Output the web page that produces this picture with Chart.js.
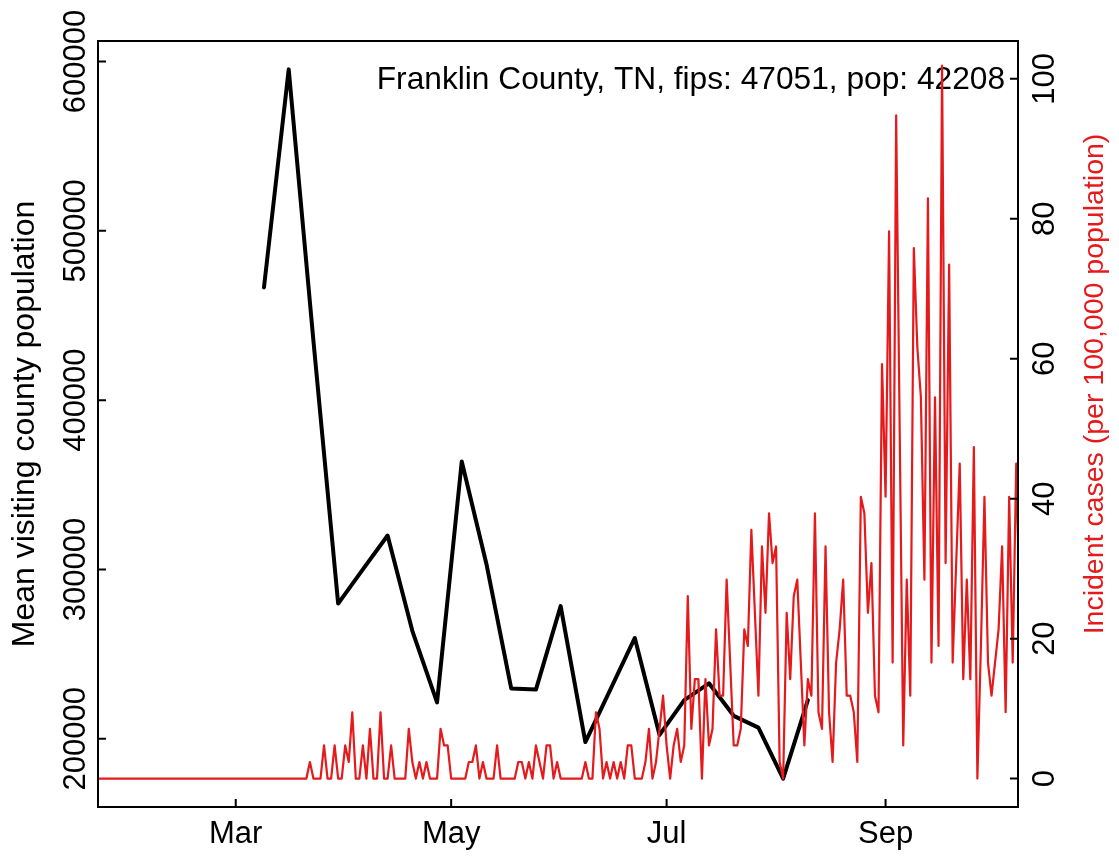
<!DOCTYPE html>
<html>
<head>
<meta charset="utf-8">
<script src="https://cdn.jsdelivr.net/npm/chart.js@4"></script>
<style>
  html, body { margin: 0; padding: 0; background: #fff; }
</style>
</head>
<body>
<canvas id="myChart" width="1119" height="856"></canvas>
<script>
// county info
const countyName = "Franklin County, TN";
const countyFips = 47051;
const countyPop = 42208;

// x axis: day of year (0 = Jan 1)
const xTickDays = [60, 121, 182, 244];
const xTickLabels = ["Mar", "May", "Jul", "Sep"];
const leftTicks = [200000, 300000, 400000, 500000, 600000];
const rightTicks = [0, 20, 40, 60, 80, 100];

// weekly mean visiting population
const visitDays = [68, 75, 82, 89, 96, 103, 110, 117, 124, 131, 138, 145,
  152, 159, 166, 173, 180, 187, 194, 201, 208, 215, 222];
const visitMean = [466600, 595400, 435000, 279800, 300000, 320000, 263700,
  221400, 363800, 303100, 229700, 229000, 278300, 198000, 228700, 259500,
  202200, 222800, 232700, 213500, 206500, 176400, 222800];

// daily new cases, first value is day 21
const caseStartDay = 21;
const dailyCases = [
  0, 0, 0, 0, 0, 0, 0, 0, 0, 0, 0, 0, 0, 0, 0, 0, 0, 0, 0, 0,
  0, 0, 0, 0, 0, 0, 0, 0, 0, 0, 0, 0, 0, 0, 0, 0, 0, 0, 0, 0,
  0, 0, 0, 0, 0, 0, 0, 0, 0, 0, 0, 0, 0, 0, 0, 0, 0, 0, 0,
  0, 1, 0, 0, 0, 2, 0, 0, 2, 0,
  0, 2, 1, 4, 0, 0, 2, 0, 3, 0,
  0, 4, 0, 0, 2, 0, 0, 0, 0, 3,
  1, 0, 1, 0, 1, 0, 0, 0, 3, 2,
  2, 0, 0, 0, 0, 0, 1, 1, 2, 0,
  1, 0, 0, 0, 2, 0, 0, 0, 0, 0,
  1, 1, 0, 1, 0, 2, 1, 0, 2, 2,
  0, 1, 0, 0, 0, 0, 0, 0, 0, 1,
  0, 0, 4, 3, 0, 1, 0, 1, 0, 1,
  0, 2, 2, 0, 0, 0, 1, 3, 0, 1,
  3, 5, 2, 0, 2, 3, 1, 2, 11, 3,
  6, 6, 0, 6, 2, 3, 9, 5, 5, 12,
  7, 2, 2, 3, 9, 8, 15, 10, 5, 14,
  10, 16, 13, 14, 1, 0, 10, 6, 11, 12,
  7, 2, 6, 5, 16, 4, 3, 14, 4, 1,
  7, 9, 12, 5, 5, 4, 1, 17, 16, 10,
  13, 5, 4, 25, 17, 33, 7, 40, 21, 2,
  12, 5, 32, 26, 23, 12, 35, 7, 23, 8,
  43, 13, 31, 7, 13, 19, 6, 12, 6, 20,
  0, 8, 17, 7, 5, 7, 9, 14, 4, 17,
  7, 19, 10, 10
];

const RED = "#E41A1C";
const FAMILY = '"Liberation Sans", Arial, Helvetica, sans-serif';
const FONT = "31px " + FAMILY;

const visitPoints = visitDays.map((d, i) => ({ x: d, y: visitMean[i] }));
const casePoints = dailyCases.map((c, i) => ({
  x: caseStartDay + i,
  y: (c * 100000) / countyPop,
}));

// base-R look: box, inward ticks, rotated y labels
const rAxes = {
  id: "rAxes",
  beforeDatasetsDraw(chart) {
    const { ctx, chartArea: a } = chart;
    ctx.save();
    ctx.font = "31.7px " + FAMILY;
    ctx.fillStyle = "#000";
    ctx.textAlign = "right";
    ctx.textBaseline = "middle";
    ctx.fillText(countyName + ", fips: " + countyFips + ", pop: " + countyPop, a.right - 13, 80);
    ctx.restore();
  },
  afterDraw(chart) {
    const { ctx, chartArea: a, scales } = chart;
    const tick = 8;
    ctx.save();
    ctx.strokeStyle = "#000";
    ctx.lineWidth = 2;
    ctx.strokeRect(a.left, a.top, a.right - a.left, a.bottom - a.top);

    ctx.font = FONT;
    ctx.fillStyle = "#000";
    ctx.textAlign = "center";
    ctx.textBaseline = "middle";

    ctx.beginPath();
    xTickDays.forEach((d, i) => {
      const px = scales.x.getPixelForValue(d);
      ctx.moveTo(px, a.bottom);
      ctx.lineTo(px, a.bottom - tick);
      ctx.fillText(xTickLabels[i], px, a.bottom + 27);
    });
    leftTicks.forEach((v) => {
      const py = scales.y.getPixelForValue(v);
      ctx.moveTo(a.left, py);
      ctx.lineTo(a.left + tick, py);
    });
    rightTicks.forEach((v) => {
      const py = scales.y2.getPixelForValue(v);
      ctx.moveTo(a.right, py);
      ctx.lineTo(a.right - tick, py);
    });
    ctx.stroke();

    const vText = (txt, x, y) => {
      ctx.save();
      ctx.translate(x, y);
      ctx.rotate(-Math.PI / 2);
      ctx.fillText(txt, 0, 0);
      ctx.restore();
    };
    leftTicks.forEach((v) => vText(String(v), a.left - 22, scales.y.getPixelForValue(v)));
    rightTicks.forEach((v) => vText(String(v), a.right + 27, scales.y2.getPixelForValue(v)));

    const mid = (a.top + a.bottom) / 2;
    ctx.font = "32px " + FAMILY;
    vText("Mean visiting county population", 25, mid);
    ctx.fillStyle = RED;
    ctx.font = "28.5px " + FAMILY;
    vText("Incident cases (per 100,000 population)", a.right + 77, 384);
    ctx.restore();
  },
};

new Chart(document.getElementById("myChart"), {
  type: "line",
  data: {
    datasets: [
      {
        label: "Incident cases",
        data: casePoints,
        yAxisID: "y2",
        borderColor: RED,
        borderWidth: 2.2,
        pointRadius: 0,
        tension: 0,
        borderJoinStyle: "round",
        borderCapStyle: "round",
      },
      {
        label: "Mean visiting county population",
        data: visitPoints,
        yAxisID: "y",
        borderColor: "#000",
        borderWidth: 4,
        pointRadius: 0,
        tension: 0,
        borderJoinStyle: "round",
        borderCapStyle: "round",
      },
    ],
  },
  options: {
    responsive: false,
    animation: false,
    devicePixelRatio: 1,
    layout: {
      padding: { left: 98, right: 101, top: 41, bottom: 49 },
    },
    scales: {
      x: { type: "linear", min: 21, max: 281.5, display: false },
      y: { type: "linear", min: 159640, max: 612160, display: false },
      y2: { type: "linear", min: -4.06, max: 105.4, display: false },
    },
    plugins: {
      legend: { display: false },
      tooltip: { enabled: false },
    },
  },
  plugins: [rAxes],
});
</script>
</body>
</html>
